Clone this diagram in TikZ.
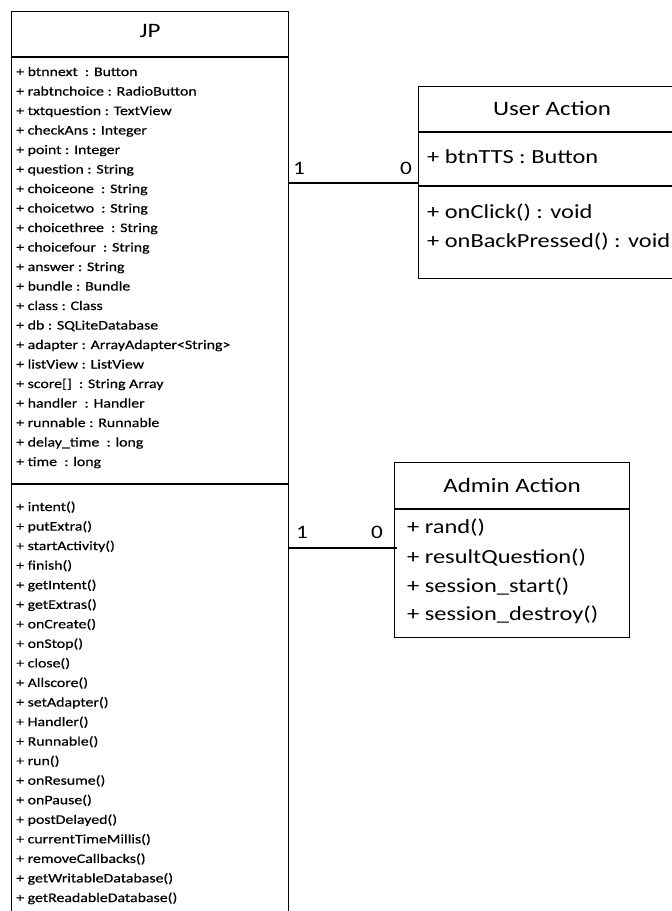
\documentclass[tikz,border=0pt]{standalone}
\usepackage{fontspec}
\setmainfont{Carlito}
% slightly heavier face for the small member lists
\newfontfamily\heavyface{Carlito}[FakeBold=0.4]
\usepackage{graphicx}

% Calibri-like face, slightly widened
\newcommand{\wide}[1]{\scalebox{1.22}[1]{#1}}

\tikzset{
  umlbox/.style={draw=black, line width=1.3pt, fill=white, inner sep=0pt, anchor=north west},
  divider/.style={draw=black, line width=1.3pt},
  assoc/.style={draw=black, line width=1.3pt},
  smalltext/.style={anchor=base west, inner sep=0pt, font=\heavyface\fontsize{13}{15}\selectfont},
  bigtext/.style={anchor=base west, inner sep=0pt, font=\fontsize{20}{24}\selectfont},
  titletext/.style={anchor=base, inner sep=0pt, font=\fontsize{20.5}{24}\selectfont},
  multtext/.style={anchor=base west, inner sep=0pt, font=\fontsize{19}{22}\selectfont},
}

\begin{document}
\begin{tikzpicture}[x=1pt,y=-1pt]
\useasboundingbox (0,0) rectangle (672,911);
\begin{scope}
\clip (0,0) rectangle (672,911);
\fill[white] (0,0) rectangle (672,911);

% ---------- class JP ----------
\node[umlbox, minimum width=277pt, minimum height=940pt] (jp) at (11,11) {};
\draw[divider] (jp.west |- 0,57) -- (jp.east |- 0,57);
\draw[divider] (jp.west |- 0,484) -- (jp.east |- 0,484);
\node[titletext] (jptitle) at (150,37) {\wide{JP}};

\foreach \t [count=\i from 0] in {
  {+ btnnext\ \ : Button},
  {+ rabtnchoice : RadioButton},
  {+ txtquestion : TextView},
  {+ checkAns : Integer},
  {+ point : Integer},
  {+ question : String},
  {+ choiceone\ \ : String},
  {+ choicetwo\ \ : String},
  {+ choicethree\ \ : String},
  {+ choicefour\ \ : String},
  {+ answer : String},
  {+ bundle : Bundle},
  {+ class : Class},
  {+ db : SQLiteDatabase},
  {+ adapter : ArrayAdapter<String>},
  {+ listView : ListView},
  {+ score[]\ \ : String Array},
  {+ handler\ \ : Handler},
  {+ runnable : Runnable},
  {+ delay\_time\ \ : long},
  {+ time\ \ : long}}
  \node[smalltext] (jpattr\i) at (16, 76+19.5*\i) {\wide{\t}};

\foreach \t [count=\i from 0] in {
  {+ intent()},
  {+ putExtra()},
  {+ startActivity()},
  {+ finish()},
  {+ getIntent()},
  {+ getExtras()},
  {+ onCreate()},
  {+ onStop()},
  {+ close()},
  {+ Allscore()},
  {+ setAdapter()},
  {+ Handler()},
  {+ Runnable()},
  {+ run()},
  {+ onResume()},
  {+ onPause()},
  {+ postDelayed()},
  {+ currentTimeMillis()},
  {+ removeCallbacks()},
  {+ getWritableDatabase()},
  {+ getReadableDatabase()}}
  \node[smalltext] (jpop\i) at (16, 511+19.55*\i) {\wide{\t}};

% ---------- class User Action ----------
\node[umlbox, minimum width=268pt, minimum height=192pt] (ua) at (418,86) {};
\draw[divider] (ua.west |- 0,132) -- (ua.east |- 0,132);
\draw[divider] (ua.west |- 0,186) -- (ua.east |- 0,186);
\node[titletext] (uatitle) at (552,115) {\wide{User Action}};
\node[bigtext] (uaattr) at (427,163) {\wide{+ btnTTS : Button}};
\node[bigtext] (uaop1) at (427,218) {\wide{+ onClick() : void}};
\node[bigtext] (uaop2) at (427,247) {\wide{+ onBackPressed() : void}};

% ---------- class Admin Action ----------
\node[umlbox, minimum width=235pt, minimum height=175pt] (aa) at (394,462) {};
\draw[divider] (aa.west |- 0,509) -- (aa.east |- 0,509);
\node[titletext] (aatitle) at (512,492) {\wide{Admin Action}};
\node[bigtext] (aaop1) at (407,533) {\wide{+ rand()}};
\node[bigtext] (aaop2) at (407,563) {\wide{+ resultQuestion()}};
\node[bigtext] (aaop3) at (407,592) {\wide{+ session\_start()}};
\node[bigtext] (aaop4) at (407,620) {\wide{+ session\_destroy()}};

% ---------- associations ----------
\coordinate (k1) at (0,183);
\coordinate (k2) at (0,548);
\draw[assoc] (jp.east |- k1) -- (ua.west |- k1);
\draw[assoc] (jp.east |- k2) -- ([xshift=3pt]aa.west |- k2);

\node[multtext] (m1a) at (293,174) {\wide{1}};
\node[multtext, anchor=base east] (m1b) at (412,174) {\wide{0}};
\node[multtext] (m2a) at (296,538) {\wide{1}};
\node[multtext, anchor=base east] (m2b) at (383,538) {\wide{0}};
\end{scope}
\end{tikzpicture}
\end{document}
